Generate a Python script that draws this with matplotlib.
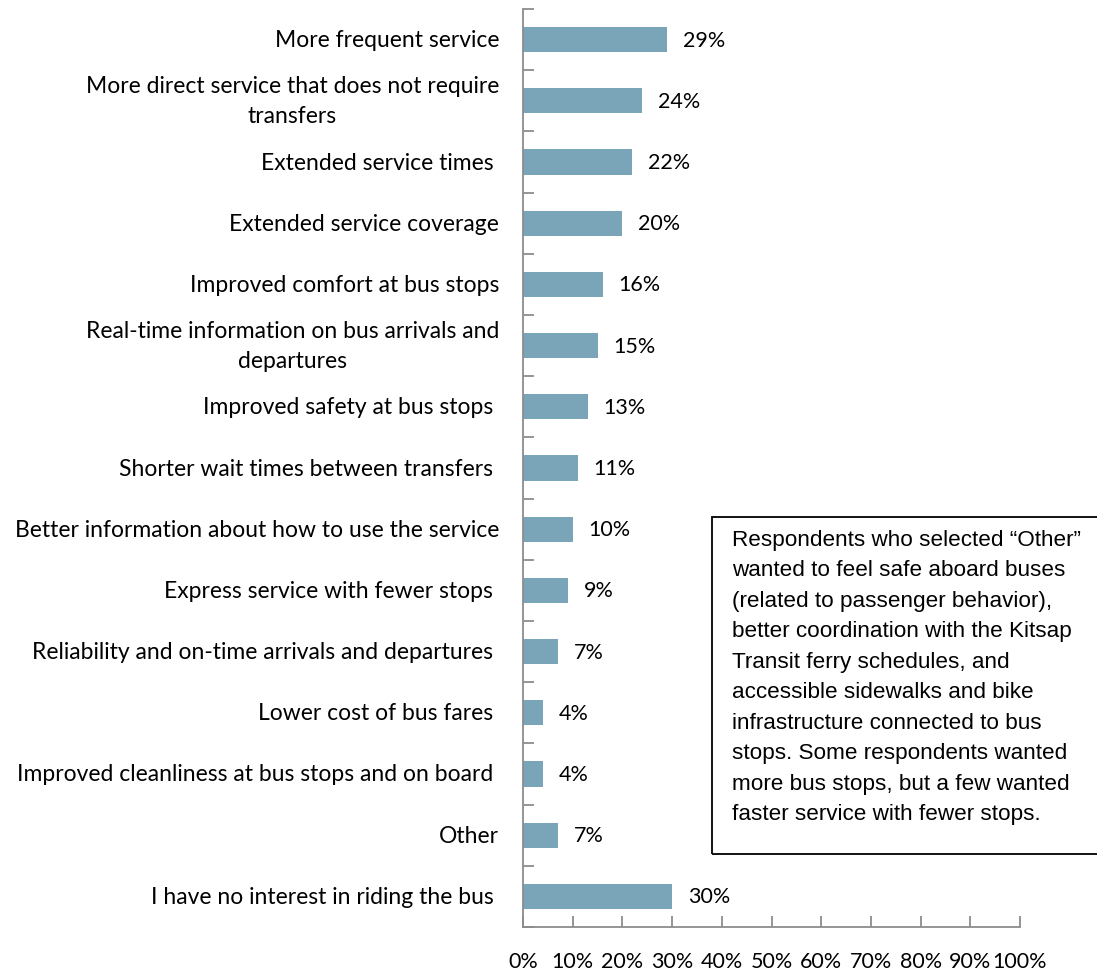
import matplotlib.pyplot as plt
import numpy as np

categories = [
    "More frequent service",
    "More direct service that does not require\ntransfers",
    "Extended service times ",
    "Extended service coverage",
    "Improved comfort at bus stops",
    "Real-time information on bus arrivals and\ndepartures",
    "Improved safety at bus stops ",
    "Shorter wait times between transfers ",
    "Better information about how to use the service",
    "Express service with fewer stops ",
    "Reliability and on-time arrivals and departures ",
    "Lower cost of bus fares ",
    "Improved cleanliness at bus stops and on board ",
    "Other",
    "I have no interest in riding the bus ",
]
values = [29, 24, 22, 20, 16, 15, 13, 11, 10, 9, 7, 4, 4, 7, 30]
x_ticks = [0, 10, 20, 30, 40, 50, 60, 70, 80, 90, 100]

note = ("Respondents who selected \u201cOther\u201d\n"
        "wanted to feel safe aboard buses\n"
        "(related to passenger behavior),\n"
        "better coordination with the Kitsap\n"
        "Transit ferry schedules, and\n"
        "accessible sidewalks and bike\n"
        "infrastructure connected to bus\n"
        "stops. Some respondents wanted\n"
        "more bus stops, but a few wanted\n"
        "faster service with fewer stops.")

bar_color = "#7aa5b9"
axis_color = "#8c8c8c"
label_font = "Lato"

fig = plt.figure(figsize=(10.97, 9.70), dpi=100)
ax = fig.add_axes([523 / 1097, 1 - 928 / 970, 497 / 1097, 918 / 970])

n = len(categories)
y = np.arange(n)
ax.barh(y, values, height=0.41, color=bar_color)
ax.set_ylim(n - 0.5, -0.5)
ax.set_xlim(0, 100)

for yi, v in zip(y, values):
    ax.text(v + 3.2, yi, f"{v}%", va="center", ha="left",
            fontsize=15.5, family=label_font)

# category names, right-aligned against the axis
ax.set_yticks([])
for yi, cat in zip(y, categories):
    ax.text(-4.8, yi, cat, ha="right", va="center", multialignment="center",
            fontsize=16.5, family=label_font, linespacing=1.55,
            transform=ax.transData, clip_on=False)

# tick marks between categories
ax.set_yticks(np.arange(n + 1) - 0.5, minor=True)
ax.tick_params(axis="y", which="minor", direction="in", length=8,
               color=axis_color, width=1.3, left=True)
ax.set_xticks(x_ticks)
ax.set_xticklabels([f"{t}%" for t in x_ticks], fontsize=15.5, family=label_font)
ax.tick_params(axis="x", direction="in", length=8, color=axis_color,
               width=1.3, pad=17)

for side in ["top", "right"]:
    ax.spines[side].set_visible(False)
for side in ["left", "bottom"]:
    ax.spines[side].set_color(axis_color)
    ax.spines[side].set_linewidth(1.3)

fig.patches.append(plt.Rectangle((712 / 1097, 1 - 855 / 970), 400 / 1097, 337 / 970,
                                 transform=fig.transFigure, fill=False,
                                 edgecolor="black", linewidth=1.3))
fig.text(732 / 1097, 1 - 530 / 970, note, ha="left", va="top",
         fontsize=16.2, family="Liberation Sans", linespacing=1.59)

fig.savefig("out.png", dpi=100)
